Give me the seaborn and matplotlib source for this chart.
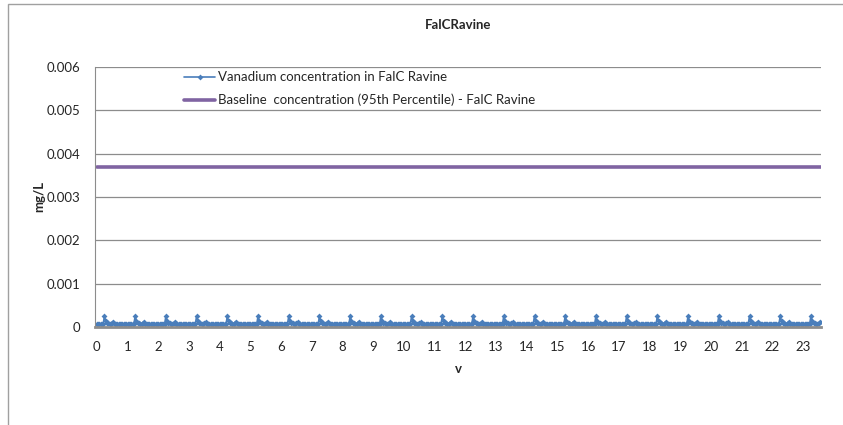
import numpy as np
import pandas as pd
import matplotlib
matplotlib.use('Agg')
import matplotlib.pyplot as plt
import seaborn as sns
from matplotlib.patches import Rectangle

# values
day_hours = list(range(24))
day_profile = [0.00007, 0.00007, 0.00007, 0.00007, 0.00007, 0.00007,
               0.00025, 0.00013, 0.00010, 0.00009, 0.00008, 0.00008,
               0.00009, 0.00011, 0.00008, 0.00007, 0.00007, 0.00007,
               0.00007, 0.00007, 0.00007, 0.00007, 0.00007, 0.00007]
days = list(range(24))
last_x = 23.58
baseline_value = 0.0037
x_ticks = list(range(24))
y_ticks = [0, 0.001, 0.002, 0.003, 0.004, 0.005, 0.006]

rows = []
for d in days:
    for h, v in zip(day_hours, day_profile):
        rows.append((d + h / 24.0, v))
df = pd.DataFrame(rows, columns=['v', 'conc'])
df = df[df['v'] <= last_x]
base = pd.DataFrame({'v': [0, last_x], 'conc': [baseline_value, baseline_value]})

sns.set_style('white')
plt.rcParams['font.family'] = ['Lato', 'DejaVu Sans']

fig = plt.figure(figsize=(8.43, 4.25), dpi=100)
ax = fig.add_axes([0.113, 0.2306, 0.861, 0.6118])

# outer chart frame (only left/top visible)
fig.patches.append(Rectangle((0.0095, -0.05), 1.2, 1.04, transform=fig.transFigure,
                             fill=False, edgecolor='#a0a0a0', linewidth=1))

for y in y_ticks[1:]:
    ax.axhline(y, color='#8c8c8c', linewidth=0.9, zorder=0)

sns.lineplot(data=df, x='v', y='conc', ax=ax, color='#4a7ebb', linewidth=1.2,
             marker='D', markersize=3, markeredgewidth=0,
             label='Vanadium concentration in FalC Ravine')
sns.lineplot(data=base, x='v', y='conc', ax=ax, color='#8064a2', linewidth=2.6,
             label='Baseline  concentration (95th Percentile) - FalC Ravine')

ax.set_xlim(-0.05, last_x)
ax.set_ylim(0, 0.006)
ax.set_xticks(x_ticks)
ax.set_yticks(y_ticks)
ax.set_yticklabels(['0', '0.001', '0.002', '0.003', '0.004', '0.005', '0.006'])
ax.tick_params(axis='x', labelsize=9.5, length=0, pad=10)
ax.tick_params(axis='y', labelsize=9.5, length=0, pad=11)
for s in ['top', 'right']:
    ax.spines[s].set_visible(False)
ax.spines['left'].set_color('#8c8c8c')
ax.spines['bottom'].set_color('#8c8c8c')
ax.spines['bottom'].set_linewidth(2)

ax.set_xlabel('v', fontsize=9.5, fontweight='bold', labelpad=7)
ax.set_ylabel('mg/L', fontsize=9.5, fontweight='bold', labelpad=1)
ax.set_title('FalCRavine', fontsize=9.5, fontweight='bold', pad=27)

leg = ax.legend(loc='upper left', bbox_to_anchor=(0.122, 0.984), frameon=False,
                borderaxespad=0, borderpad=0,
                fontsize=9.5, handlelength=2.4, handletextpad=0.2, labelspacing=0.8)

fig.savefig('out.png', dpi=100)
